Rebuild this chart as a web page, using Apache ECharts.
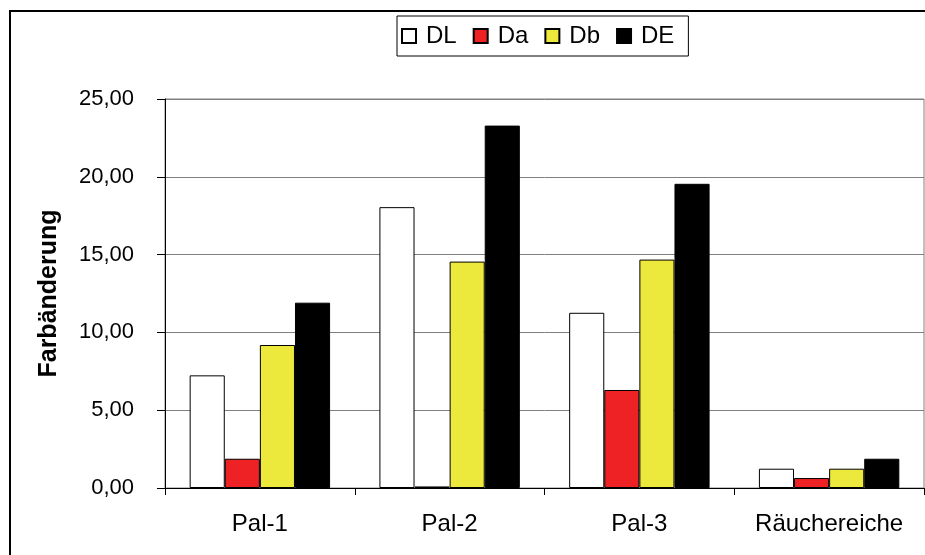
<!DOCTYPE html>
<html>
<head>
<meta charset="utf-8">
<script src="https://cdn.jsdelivr.net/npm/echarts@6/dist/echarts.min.js"></script>
<style>
  html, body { margin: 0; padding: 0; background: #fff; }
  #chart { width: 925px; height: 555px; }
</style>
</head>
<body>
<div id="chart"></div>
<script>
// Farbänderung je Probe (DL, Da, Db, DE)
const categories = ['Pal-1', 'Pal-2', 'Pal-3', 'Räuchereiche'];
const seriesNames = ['DL', 'Da', 'Db', 'DE'];
const valuesDL = [7.24, 18.05, 11.26, 1.24];
const valuesDa = [1.88, 0.10, 6.30, 0.64];
const valuesDb = [9.19, 14.55, 14.68, 1.24];
const valuesDE = [11.91, 23.29, 19.55, 1.88];
const seriesColors = ['#ffffff', '#ee2224', '#ede93c', '#000000'];
const yTicks = { min: 0, max: 25, interval: 5 };

const FONT = '"Liberation Sans", Arial, sans-serif';
const allValues = [valuesDL, valuesDa, valuesDb, valuesDE];

const chart = echarts.init(document.getElementById('chart'), null, { renderer: 'canvas' });

chart.setOption({
  backgroundColor: '#ffffff',
  animation: false,
  textStyle: { fontFamily: FONT, color: '#000' },
  grid: {
    left: 165, right: 1, top: 99, bottom: 67,
    show: true, borderColor: '#808080', borderWidth: 1, backgroundColor: 'transparent'
  },
  legend: {
    data: seriesNames,
    left: 397, top: 16,
    itemWidth: 14, itemHeight: 14, itemGap: 16,
    icon: 'rect',
    padding: [8, 14, 8, 4],
    borderColor: '#000', borderWidth: 1,
    textStyle: { fontFamily: FONT, fontSize: 24, color: '#000', padding: [0, 0, 0, 5] }
  },
  xAxis: {
    type: 'category',
    data: categories,
    axisLine: { lineStyle: { color: '#000', width: 1 } },
    axisTick: { show: true, interval: 0, length: 7, lineStyle: { color: '#000' } },
    axisLabel: { interval: 0, fontFamily: FONT, fontSize: 24, color: '#000', margin: 24 }
  },
  yAxis: {
    type: 'value',
    min: yTicks.min, max: yTicks.max, interval: yTicks.interval,
    name: 'Farbänderung',
    nameLocation: 'middle',
    nameRotate: 90,
    nameGap: 103,
    nameTextStyle: { fontFamily: FONT, fontSize: 25, fontWeight: 'bold', color: '#000' },
    axisLine: { show: true, lineStyle: { color: '#000', width: 1 } },
    axisTick: { show: true, length: 8, lineStyle: { color: '#000' } },
    axisLabel: {
      fontFamily: FONT, fontSize: 22, color: '#000', margin: 31,
      formatter: v => v.toFixed(2).replace('.', ',')
    },
    splitLine: { show: true, lineStyle: { color: '#808080', width: 1 } }
  },
  series: seriesNames.map((name, i) => ({
    name: name,
    type: 'bar',
    data: allValues[i],
    barGap: '0%',
    barCategoryGap: '26%',
    itemStyle: { color: seriesColors[i], borderColor: '#000', borderWidth: 1 }
  })),
  graphic: [{
    type: 'rect',
    shape: { x: 10, y: 11, width: 1000, height: 1000 },
    style: { fill: 'none', stroke: '#000', lineWidth: 2 },
    silent: true, z: 100
  }]
});
</script>
</body>
</html>
